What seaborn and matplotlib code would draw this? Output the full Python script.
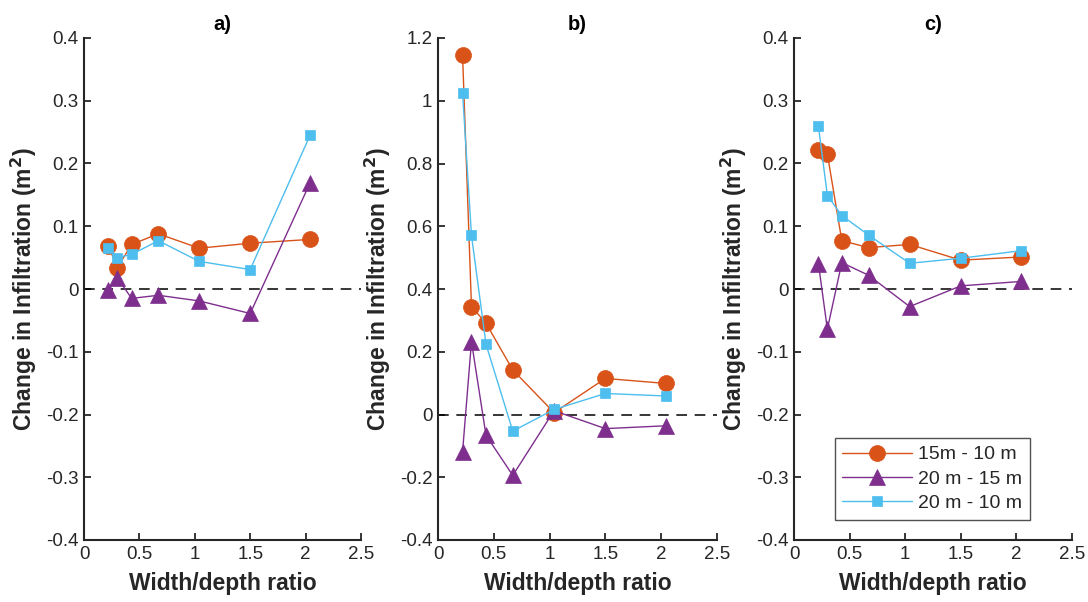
import matplotlib
matplotlib.use("Agg")
import matplotlib.pyplot as plt
import seaborn as sns
import numpy as np
import pandas as pd
from matplotlib.ticker import FuncFormatter, MultipleLocator

sns.set_theme(style="white")
plt.rcParams['font.family'] = ['Liberation Sans', 'DejaVu Sans']

# ---- data ----
ratio = [0.22, 0.30, 0.43, 0.67, 1.04, 1.50, 2.04]
series_names = ["15m - 10 m", "20 m - 15 m", "20 m - 10 m"]
panel_titles = ["a)", "b)", "c)"]

a_15_10 = [0.069, 0.034, 0.071, 0.088, 0.065, 0.073, 0.079]
a_20_15 = [-0.002, 0.018, -0.015, -0.010, -0.019, -0.039, 0.169]
a_20_10 = [0.066, 0.050, 0.055, 0.077, 0.044, 0.031, 0.245]

b_15_10 = [1.146, 0.344, 0.291, 0.142, 0.006, 0.115, 0.099]
b_20_15 = [-0.119, 0.232, -0.066, -0.194, 0.012, -0.045, -0.036]
b_20_10 = [1.026, 0.571, 0.224, -0.053, 0.016, 0.067, 0.059]

c_15_10 = [0.222, 0.215, 0.077, 0.066, 0.071, 0.046, 0.051]
c_20_15 = [0.040, -0.064, 0.042, 0.022, -0.028, 0.005, 0.012]
c_20_10 = [0.259, 0.149, 0.117, 0.086, 0.041, 0.049, 0.061]

panels = [
    [a_15_10, a_20_15, a_20_10],
    [b_15_10, b_20_15, b_20_10],
    [c_15_10, c_20_15, c_20_10],
]
ylims = [(-0.4, 0.4), (-0.4, 1.2), (-0.4, 0.4)]
ysteps = [0.1, 0.2, 0.1]

colors = ["#D95319", "#7E2F8E", "#4DBEEE"]
markers = ["o", "^", "s"]
msizes = [11.5, 12, 7.5]

fig = plt.figure(figsize=(10.88, 6.02), dpi=100)
lefts = [84 / 1088, 438 / 1088, 794 / 1088]
widths = [277 / 1088, 279 / 1088, 278 / 1088]
bottom = (602 - 540) / 602
height = 502 / 602

fmt = FuncFormatter(lambda v, p: ("%g" % round(v, 6)).replace("\u2212", "-"))
tick_color = "#262626"

for i, (vals, title) in enumerate(zip(panels, panel_titles)):
    ax = fig.add_axes([lefts[i], bottom, widths[i], height])
    ax.axhline(0, color="black", lw=1.1, ls=(0, (7, 5)), zorder=1)
    for j, name in enumerate(series_names):
        df = pd.DataFrame({"ratio": ratio, "val": vals[j]})
        sns.lineplot(data=df, x="ratio", y="val", ax=ax, sort=False,
                     color=colors[j], marker=markers[j], markersize=msizes[j],
                     markeredgecolor=colors[j], markeredgewidth=0.5,
                     linewidth=1.0, label=name, zorder=3)
    ax.set_xlim(0, 2.5)
    ax.set_ylim(*ylims[i])
    ax.xaxis.set_major_locator(MultipleLocator(0.5))
    ax.yaxis.set_major_locator(MultipleLocator(ysteps[i]))
    ax.xaxis.set_major_formatter(fmt)
    ax.yaxis.set_major_formatter(fmt)
    for s in ["top", "right"]:
        ax.spines[s].set_visible(False)
    for s in ["left", "bottom"]:
        ax.spines[s].set_color(tick_color)
        ax.spines[s].set_linewidth(1.5)
    ax.tick_params(direction="in", length=5, width=1.3, colors=tick_color,
                   labelsize=13.5, left=True, bottom=True, pad=4)
    ax.set_xlabel("Width/depth ratio", fontsize=16.5, fontweight="bold",
                  color="#262626", labelpad=7)
    ax.set_ylabel("Change in Infiltration (m$^\\mathbf{2}$)", fontsize=16.5,
                  fontweight="bold", color="#262626", labelpad=5)
    ax.set_title(title, fontsize=14.5, fontweight="bold", pad=5.5, color="black")
    if i == 2:
        leg = ax.legend(loc="lower right", bbox_to_anchor=(0.849, 0.040),
                        fontsize=14, frameon=True, fancybox=False,
                        handlelength=3.6, borderpad=0.4, labelspacing=0.35,
                        handletextpad=0.3, borderaxespad=0)
        leg.get_frame().set_edgecolor("#262626")
        leg.get_frame().set_linewidth(1.0)
    else:
        ax.get_legend().remove()

fig.savefig("out.png", dpi=100)
